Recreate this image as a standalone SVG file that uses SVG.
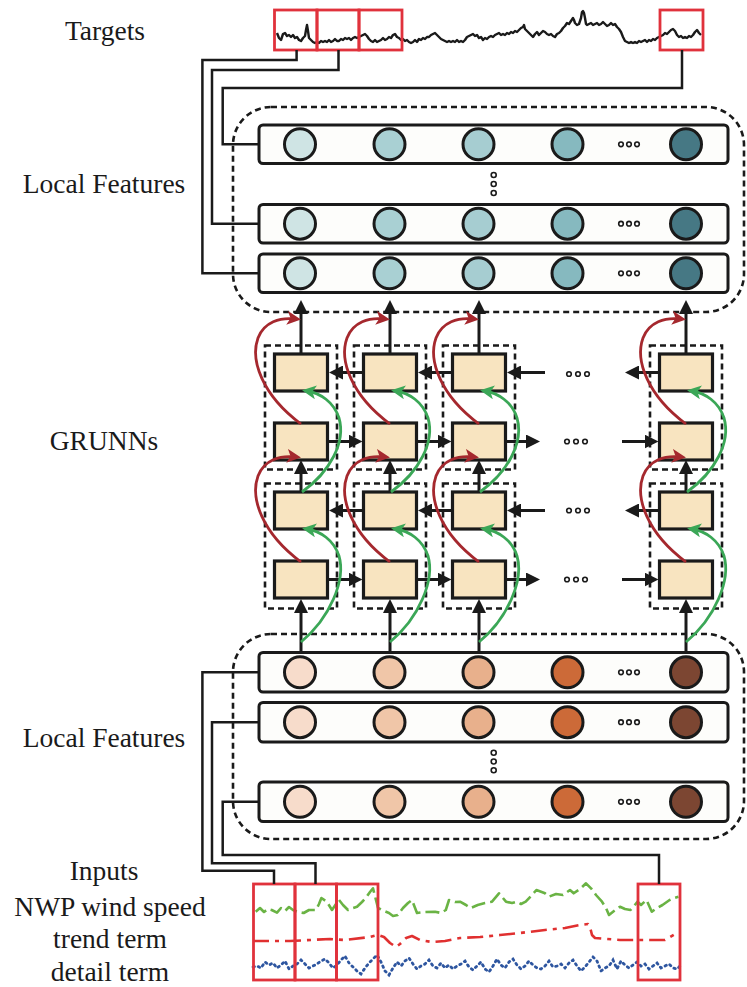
<svg xmlns="http://www.w3.org/2000/svg" width="747" height="987" viewBox="0 0 747 987">
<style>
.lbl{font-family:"Liberation Serif","Times New Roman",serif;font-size:27.5px;fill:#1a1a1a;text-anchor:middle}
.box{fill:#fdfdfb;stroke:#1a1a1a;stroke-width:3}
.gru{fill:#f8e4c0;stroke:#1a1a1a;stroke-width:3.2}
.dash{fill:none;stroke:#1a1a1a;stroke-width:2.6;stroke-dasharray:6 4}
.nd{stroke:#1a1a1a;stroke-width:3}
.dot{fill:#fff;stroke:#1a1a1a;stroke-width:1.6}
.wire{fill:none;stroke:#1a1a1a;stroke-width:2.5}
.arr{fill:none;stroke:#1a1a1a;stroke-width:3;marker-end:url(#ah)}
.red{fill:none;stroke:#a5282e;stroke-width:2.8;marker-end:url(#rh)}
.grn{fill:none;stroke:#3ba757;stroke-width:2.8;marker-end:url(#gh)}
.rbox{fill:none;stroke:#e0323c;stroke-width:2.8}
.t1{fill:#cfe4e4}.t2{fill:#a9d0d3}.t3{fill:#a6cdd1}.t4{fill:#86b9bf}.t5{fill:#467884}
.o1{fill:#f7dccb}.o2{fill:#f0c6a8}.o3{fill:#e8b08c}.o4{fill:#cc6a38}.o5{fill:#7c4632}
</style>
<defs>
<marker id="ah" viewBox="0 0 14 14" markerWidth="14" markerHeight="14" refX="5" refY="7" orient="auto" markerUnits="userSpaceOnUse"><path d="M0,0 L14,7 L0,14 z" fill="#1a1a1a"/></marker>
<marker id="rh" viewBox="0 0 14 14" markerWidth="14" markerHeight="14" refX="9" refY="7" orient="auto" markerUnits="userSpaceOnUse"><path d="M0,0 L14,7 L0,14 L3.5,7 z" fill="#a5282e"/></marker>
<marker id="gh" viewBox="0 0 14 14" markerWidth="14" markerHeight="14" refX="9" refY="7" orient="auto" markerUnits="userSpaceOnUse"><path d="M0,0 L14,7 L0,14 L3.5,7 z" fill="#3ba757"/></marker>
</defs>
<rect width="747" height="987" fill="#fff"/>

<g id="labels">
<text class="lbl" x="105" y="40">Targets</text>
<text class="lbl" x="104" y="193">Local Features</text>
<text class="lbl" x="104" y="450">GRUNNs</text>
<text class="lbl" x="104" y="747">Local Features</text>
<text class="lbl" x="104" y="880">Inputs</text>
<text class="lbl" x="110" y="916">NWP wind speed</text>
<text class="lbl" x="110" y="948">trend term</text>
<text class="lbl" x="110" y="981">detail term</text>
</g>

<g id="targets">
<polyline fill="none" stroke="#1a1a1a" stroke-width="2.4" stroke-linejoin="round" points="277,33 279,38 281,40 283,34 285,33 287,36 289,35 291,37 293,35 295,38 297,37 299,40 301,41 303,38 305,36 306,30 307,25 308,31 309,38 311,40 313,42 315,43 317,42 319,43 321,41 323,42 325,41 327,42 329,40 331,42 333,41 335,39 337,41 339,41 341,39 343,40 345,38 347,39 349,38 351,40 353,38 355,37 357,38 359,37 361,36 363,35 365,34 367,36 369,39 371,41 373,42 375,40 377,42 379,41 381,40 383,38 385,40 387,39 389,37 391,38 393,35 395,34 397,37 399,38 401,40 403,39 405,41 407,40 409,42 411,43 413,42 415,40 417,42 419,39 421,40 423,38 425,39 427,37 429,37 431,35 433,34 435,33 437,35 439,37 441,39 443,40 445,41 447,42 449,41 451,42 453,41 455,42 457,40 459,42 461,41 463,42 465,40 467,37 469,36 471,35 473,34 475,36 477,35 479,38 481,37 483,40 485,38 487,39 489,37 491,36 493,37 495,35 497,34 499,33 501,35 503,34 505,35 507,33 509,34 511,32 513,33 515,31 517,32 519,30 521,28 523,27 524,25 525,29 527,31 529,33 531,35 533,37 535,34 537,32 539,35 541,33 543,31 545,32 547,34 549,35 551,34 553,36 555,37 557,34 559,33 561,31 563,28 565,26 567,23 569,24 571,21 573,18 574,20 575,23 577,25 579,24 581,18 582,12 583,11 584,13 585,18 586,24 587,25 589,24 591,23 593,25 595,24 597,23 599,25 601,24 603,22 605,24 607,26 609,25 611,23 613,25 615,24 617,27 619,29 621,32 623,37 625,41 627,42 629,43 631,42 633,43 635,42 637,43 639,41 641,42 643,41 645,40 647,42 649,40 651,41 653,39 655,40 657,38 659,37 661,36 663,35 665,33 667,34 669,32 671,30 673,29 675,31 677,35 679,37 681,36 683,38 685,37 687,38 689,36 691,37 693,35 695,32 697,30 699,33 701,35"/>
<rect class="rbox" x="274.5" y="10" width="42.5" height="40"/>
<rect class="rbox" x="317" y="10" width="42" height="40"/>
<rect class="rbox" x="359" y="10" width="43" height="40"/>
<rect class="rbox" x="660" y="10" width="43" height="40"/>
</g>

<g id="top-features">
<rect class="dash" x="233" y="107" width="511" height="205" rx="38"/>
<g id="top-row1">
<rect class="box" x="259" y="125" width="469" height="38.5" rx="4"/>
<circle class="nd t1" cx="300" cy="144.3" r="15.5"/><circle class="nd t2" cx="389.5" cy="144.3" r="15.5"/><circle class="nd t3" cx="478.5" cy="144.3" r="15.5"/><circle class="nd t4" cx="567.5" cy="144.3" r="15.5"/><circle class="nd t5" cx="686" cy="144.3" r="15.5"/>
<circle class="dot" cx="621" cy="144.3" r="2.3"/><circle class="dot" cx="629" cy="144.3" r="2.3"/><circle class="dot" cx="637" cy="144.3" r="2.3"/>
</g>
<g id="top-vdots"><circle class="dot" cx="493.7" cy="175" r="2.5"/><circle class="dot" cx="493.7" cy="184" r="2.5"/><circle class="dot" cx="493.7" cy="193" r="2.5"/></g>
<g id="top-row2">
<rect class="box" x="259" y="204.5" width="469" height="38.5" rx="4"/>
<circle class="nd t1" cx="300" cy="223.7" r="15.5"/><circle class="nd t2" cx="389.5" cy="223.7" r="15.5"/><circle class="nd t3" cx="478.5" cy="223.7" r="15.5"/><circle class="nd t4" cx="567.5" cy="223.7" r="15.5"/><circle class="nd t5" cx="686" cy="223.7" r="15.5"/>
<circle class="dot" cx="621" cy="223.7" r="2.3"/><circle class="dot" cx="629" cy="223.7" r="2.3"/><circle class="dot" cx="637" cy="223.7" r="2.3"/>
</g>
<g id="top-row3">
<rect class="box" x="259" y="254" width="469" height="38.5" rx="4"/>
<circle class="nd t1" cx="300" cy="273.3" r="15.5"/><circle class="nd t2" cx="389.5" cy="273.3" r="15.5"/><circle class="nd t3" cx="478.5" cy="273.3" r="15.5"/><circle class="nd t4" cx="567.5" cy="273.3" r="15.5"/><circle class="nd t5" cx="686" cy="273.3" r="15.5"/>
<circle class="dot" cx="621" cy="273.3" r="2.3"/><circle class="dot" cx="629" cy="273.3" r="2.3"/><circle class="dot" cx="637" cy="273.3" r="2.3"/>
</g>
</g>

<g id="grunns">
<g id="gru-col1">
<rect class="dash" x="265" y="345.5" width="72" height="124"/>
<rect class="dash" x="265" y="483.5" width="72" height="125"/>
<g id="gru-c1-r1"><rect class="gru" x="274.5" y="354" width="53" height="37"/></g>
<g id="gru-c1-r2"><rect class="gru" x="274.5" y="423" width="53" height="37"/></g>
<g id="gru-c1-r3"><rect class="gru" x="274.5" y="492" width="53" height="37"/></g>
<g id="gru-c1-r4"><rect class="gru" x="274.5" y="561" width="53" height="37"/></g>
</g>
<g id="gru-col2" transform="translate(89,0)">
<rect class="dash" x="265" y="345.5" width="72" height="124"/>
<rect class="dash" x="265" y="483.5" width="72" height="125"/>
<g id="gru-c2-r1"><rect class="gru" x="274.5" y="354" width="53" height="37"/></g>
<g id="gru-c2-r2"><rect class="gru" x="274.5" y="423" width="53" height="37"/></g>
<g id="gru-c2-r3"><rect class="gru" x="274.5" y="492" width="53" height="37"/></g>
<g id="gru-c2-r4"><rect class="gru" x="274.5" y="561" width="53" height="37"/></g>
</g>
<g id="gru-col3" transform="translate(178,0)">
<rect class="dash" x="265" y="345.5" width="72" height="124"/>
<rect class="dash" x="265" y="483.5" width="72" height="125"/>
<g id="gru-c3-r1"><rect class="gru" x="274.5" y="354" width="53" height="37"/></g>
<g id="gru-c3-r2"><rect class="gru" x="274.5" y="423" width="53" height="37"/></g>
<g id="gru-c3-r3"><rect class="gru" x="274.5" y="492" width="53" height="37"/></g>
<g id="gru-c3-r4"><rect class="gru" x="274.5" y="561" width="53" height="37"/></g>
</g>
<g id="gru-col4" transform="translate(385,0)">
<rect class="dash" x="265" y="345.5" width="72" height="124"/>
<rect class="dash" x="265" y="483.5" width="72" height="125"/>
<g id="gru-c4-r1"><rect class="gru" x="274.5" y="354" width="53" height="37"/></g>
<g id="gru-c4-r2"><rect class="gru" x="274.5" y="423" width="53" height="37"/></g>
<g id="gru-c4-r3"><rect class="gru" x="274.5" y="492" width="53" height="37"/></g>
<g id="gru-c4-r4"><rect class="gru" x="274.5" y="561" width="53" height="37"/></g>
</g>
<g id="gru-dots">
<circle class="dot" cx="569" cy="374" r="2.3"/><circle class="dot" cx="578" cy="374" r="2.3"/><circle class="dot" cx="587" cy="374" r="2.3"/>
<circle class="dot" cx="567" cy="441.5" r="2.3"/><circle class="dot" cx="576" cy="441.5" r="2.3"/><circle class="dot" cx="585" cy="441.5" r="2.3"/>
<circle class="dot" cx="569" cy="510.5" r="2.3"/><circle class="dot" cx="578" cy="510.5" r="2.3"/><circle class="dot" cx="587" cy="510.5" r="2.3"/>
<circle class="dot" cx="567" cy="579.5" r="2.3"/><circle class="dot" cx="576" cy="579.5" r="2.3"/><circle class="dot" cx="585" cy="579.5" r="2.3"/>
</g>
</g>

<g id="bottom-features">
<rect class="dash" x="233" y="634" width="511" height="205" rx="38"/>
<g id="bot-row1">
<rect class="box" x="259" y="652.5" width="469" height="39.5" rx="4"/>
<circle class="nd o1" cx="300" cy="672.3" r="15.5"/><circle class="nd o2" cx="389.5" cy="672.3" r="15.5"/><circle class="nd o3" cx="478.5" cy="672.3" r="15.5"/><circle class="nd o4" cx="567.5" cy="672.3" r="15.5"/><circle class="nd o5" cx="686" cy="672.3" r="15.5"/>
<circle class="dot" cx="621" cy="672.3" r="2.3"/><circle class="dot" cx="629" cy="672.3" r="2.3"/><circle class="dot" cx="637" cy="672.3" r="2.3"/>
</g>
<g id="bot-row2">
<rect class="box" x="259" y="702.5" width="469" height="39.5" rx="4"/>
<circle class="nd o1" cx="300" cy="722.2" r="15.5"/><circle class="nd o2" cx="389.5" cy="722.2" r="15.5"/><circle class="nd o3" cx="478.5" cy="722.2" r="15.5"/><circle class="nd o4" cx="567.5" cy="722.2" r="15.5"/><circle class="nd o5" cx="686" cy="722.2" r="15.5"/>
<circle class="dot" cx="621" cy="722.2" r="2.3"/><circle class="dot" cx="629" cy="722.2" r="2.3"/><circle class="dot" cx="637" cy="722.2" r="2.3"/>
</g>
<g id="bot-vdots"><circle class="dot" cx="493.7" cy="752.7" r="2.5"/><circle class="dot" cx="493.7" cy="761.5" r="2.5"/><circle class="dot" cx="493.7" cy="770.3" r="2.5"/></g>
<g id="bot-row3">
<rect class="box" x="259" y="782" width="469" height="39.5" rx="4"/>
<circle class="nd o1" cx="300" cy="801.8" r="15.5"/><circle class="nd o2" cx="389.5" cy="801.8" r="15.5"/><circle class="nd o3" cx="478.5" cy="801.8" r="15.5"/><circle class="nd o4" cx="567.5" cy="801.8" r="15.5"/><circle class="nd o5" cx="686" cy="801.8" r="15.5"/>
<circle class="dot" cx="621" cy="801.8" r="2.3"/><circle class="dot" cx="629" cy="801.8" r="2.3"/><circle class="dot" cx="637" cy="801.8" r="2.3"/>
</g>
</g>

<g id="inputs">
<polyline fill="none" stroke="#6ab344" stroke-width="2.6" stroke-dasharray="14 5" stroke-linejoin="round" points="255.7,911.7 260,908 264,912 268,909 271.7,910 277,912.7 281,908 285,911 289,907 293,910 298,912 303.7,913 309,910 316,910 319,904 321.4,898 326.8,901.7 332,910 336,904 339,900 343,905 348,910 353,908 357,906.7 362,902 365.8,898 370,892 373,888.3 378,908 384,911 389,913 393,916 397.8,915 403,908 408,903 412,900 417,913 425,912 435,911.7 441,913 445.8,910 449,900 455,902 460,901.7 466,905 470.6,908 477.7,905 485,903 492,901.7 499,893.3 506,901.7 512,903 516.8,901.7 521,904 525.7,901.7 531,896 536.4,890 545,893.3 548.8,896.7 556,894 563,895 570,890 573.7,893.3 580,889 586,883.3 591,888.3 596,895 602,901.7 606,908 609,915 614,911 620,906.7 625,909 630.5,910 634,906 637.6,901.7 641,905 646.5,900 651.8,911.7 657,908 662.5,905 669.6,900 674,898 678.4,896.7"/>
<polyline fill="none" stroke="#e03030" stroke-width="2.6" stroke-dasharray="16 6 4 6" stroke-linejoin="round" points="253,941 290,941 330,939 345,940 370,937 378,935 384,937 390,943 396,947 400,944 406,938 412,936 420,940 432,942 445,941 460,938 480,937 500,935 520,933 545,930 565,928 580,925 588,924 590,927 592,935 595,938 620,940 650,940 665,940 670,937 675,934 680,933"/>
<polyline fill="none" stroke="#2e56a0" stroke-width="2.8" stroke-dasharray="1.5 4" stroke-linecap="round" points="253,967 257,966 261,968 265,962 269,965 273,963 277,968 281,965 285,961 289,969 293,966 297,964 301,960 305,964 309,968 313,966 317,964 321,961 325,959 329,963 333,968 337,965 341,960 345,956 349,963 353,967 357,971 361,974 365,968 369,963 373,959 377,955 381,962 385,971 389,975 393,968 397,962 401,966 405,961 409,958 413,964 417,969 421,966 425,964 429,960 433,966 437,968 441,963 445,968 449,965 453,969 457,966 461,964 465,961 469,967 473,970 477,966 481,962 485,969 489,972 493,966 497,959 501,965 505,968 509,962 513,959 517,965 521,969 525,966 529,961 533,965 537,968 541,969 545,966 549,961 553,967 557,966 561,964 565,968 569,963 573,960 577,966 581,971 585,967 589,962 593,957 597,961 601,971 605,968 609,966 613,960 617,969 621,961 625,965 629,968 633,965 637,962 641,966 645,964 649,969 653,966 657,963 661,968 665,966 669,964 673,968 677,969 680,966"/>
<rect class="rbox" x="253.5" y="884" width="41.5" height="96"/>
<rect class="rbox" x="295" y="884" width="41.5" height="96"/>
<rect class="rbox" x="336.5" y="884" width="41.5" height="96"/>
<rect class="rbox" x="638" y="884" width="42" height="96"/>
</g>

<g id="connectors">
<path class="wire" d="M296.6,50 V60 H202.4 V273.3 H259"/>
<path class="wire" d="M338.5,50 V70 H212 V223.7 H259"/>
<path class="wire" d="M682,50 V88 H222.7 V144.3 H259"/>
<path class="wire" d="M259,672.3 H202.4 V870.7 H274 V884"/>
<path class="wire" d="M259,722.2 H212 V863.3 H315.5 V884"/>
<path class="wire" d="M259,801.8 H222.7 V855 H659 V884"/>
<g id="col-arrows-1">
<path class="arr" d="M301,354 V309"/><path class="arr" d="M301,492 V469"/><path class="arr" d="M301,652 V608"/>
</g>
<g transform="translate(89,0)"><path class="arr" d="M301,354 V309"/><path class="arr" d="M301,492 V469"/><path class="arr" d="M301,652 V608"/></g>
<g transform="translate(178,0)"><path class="arr" d="M301,354 V309"/><path class="arr" d="M301,492 V469"/><path class="arr" d="M301,652 V608"/></g>
<g transform="translate(385,0)"><path class="arr" d="M301,354 V309"/><path class="arr" d="M301,492 V469"/><path class="arr" d="M301,652 V608"/></g>
<g id="h-arrows">
<path class="arr" d="M363.5,372.5 H338"/><path class="arr" d="M452.5,372.5 H427"/><path class="arr" d="M545,372.5 H516"/><path class="arr" d="M659.5,372.5 H634"/>
<path class="arr" d="M327.5,441.5 H353.5"/><path class="arr" d="M416.5,441.5 H442.5"/><path class="arr" d="M505.5,441.5 H531"/><path class="arr" d="M622,441.5 H649.5"/>
<path class="arr" d="M363.5,510.5 H338"/><path class="arr" d="M452.5,510.5 H427"/><path class="arr" d="M545,510.5 H516"/><path class="arr" d="M659.5,510.5 H634"/>
<path class="arr" d="M327.5,579.5 H353.5"/><path class="arr" d="M416.5,579.5 H442.5"/><path class="arr" d="M505.5,579.5 H531"/><path class="arr" d="M622,579.5 H649.5"/>
</g>
<g id="skip-col1">
<path class="red" d="M301,424 C262,395 250,360 258,338 C264,322 280,317 296,319"/>
<path class="red" d="M301,562 C262,533 250,498 258,476 C264,460 280,455 296,457"/>
<path class="grn" d="M302,492 C330,472 346,442 339,418 C334,402 320,393 307,391"/>
<path class="grn" d="M301,642 C330,618 346,580 339,556 C334,540 320,531 307,529"/>
</g>
<g transform="translate(89,0)">
<path class="red" d="M301,424 C262,395 250,360 258,338 C264,322 280,317 296,319"/>
<path class="red" d="M301,562 C262,533 250,498 258,476 C264,460 280,455 296,457"/>
<path class="grn" d="M302,492 C330,472 346,442 339,418 C334,402 320,393 307,391"/>
<path class="grn" d="M301,642 C330,618 346,580 339,556 C334,540 320,531 307,529"/>
</g>
<g transform="translate(178,0)">
<path class="red" d="M301,424 C262,395 250,360 258,338 C264,322 280,317 296,319"/>
<path class="red" d="M301,562 C262,533 250,498 258,476 C264,460 280,455 296,457"/>
<path class="grn" d="M302,492 C330,472 346,442 339,418 C334,402 320,393 307,391"/>
<path class="grn" d="M301,642 C330,618 346,580 339,556 C334,540 320,531 307,529"/>
</g>
<g transform="translate(385,0)">
<path class="red" d="M301,424 C262,395 250,360 258,338 C264,322 280,317 296,319"/>
<path class="red" d="M301,562 C262,533 250,498 258,476 C264,460 280,455 296,457"/>
<path class="grn" d="M302,492 C330,472 346,442 339,418 C334,402 320,393 307,391"/>
<path class="grn" d="M301,642 C330,618 346,580 339,556 C334,540 320,531 307,529"/>
</g>
</g>
</svg>
